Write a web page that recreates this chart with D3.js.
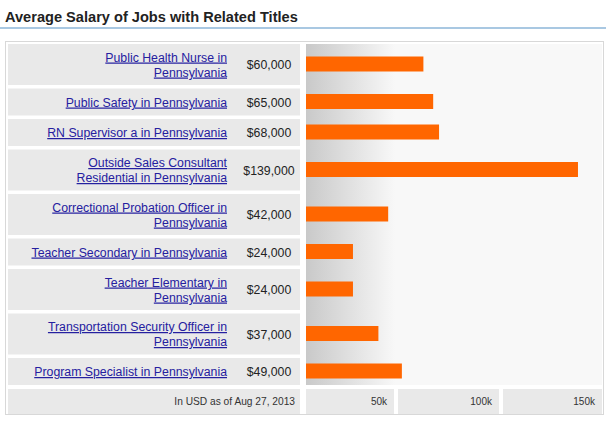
<!DOCTYPE html>
<html>
<head>
<meta charset="utf-8">
<script src="https://cdn.jsdelivr.net/npm/d3@7"></script>
<style>
  body { margin: 0; background: #fff; }
  text { font-family: Arial, "Liberation Sans", sans-serif; }
</style>
</head>
<body>
<div id="chart"></div>
<script>
// job titles (line breaks as shown in the table), salaries, axis ticks
const titles = [
  'Public Health Nurse in\nPennsylvania',
  'Public Safety in Pennsylvania',
  'RN Supervisor a in Pennsylvania',
  'Outside Sales Consultant\nResidential in Pennsylvania',
  'Correctional Probation Officer in\nPennsylvania',
  'Teacher Secondary in Pennsylvania',
  'Teacher Elementary in\nPennsylvania',
  'Transportation Security Officer in\nPennsylvania',
  'Program Specialist in Pennsylvania'
];
const salaries = [60000, 65000, 68000, 139000, 42000, 24000, 24000, 37000, 49000];
const ticks = [50000, 100000, 150000];
const tickLabels = ['50k', '100k', '150k'];
const footnote = 'In USD as of Aug 27, 2013';
const title = 'Average Salary of Jobs with Related Titles';

const width = 610, height = 422;
const svg = d3.select('#chart').append('svg')
  .attr('width', width).attr('height', height);

// title + blue rule
svg.append('text').attr('x', 5).attr('y', 22)
  .style('font-size', '14.6px').style('font-weight', 'bold').attr('fill', '#222')
  .text(title);
svg.append('rect').attr('x', 0).attr('y', 27).attr('width', 606).attr('height', 2)
  .attr('fill', '#a9c8e2');

// outer box
svg.append('rect').attr('x', 5.5).attr('y', 41.5).attr('width', 598).attr('height', 373)
  .attr('fill', '#fff').attr('stroke', '#d8d8d8');

const x = d3.scaleLinear().domain([0, 150000]).range([306, 599.5]);

// row layout: two-line rows are taller
const top0 = 44, gap = 3.5;
const rows = [];
let yy = top0;
titles.forEach((t, i) => {
  const lines = t.split('\n');
  const h = lines.length > 1 ? 41 : 27;
  rows.push({ lines, value: salaries[i], y: yy, h });
  yy += h + gap;
});
const dataBottom = yy - gap;

// chart area background gradient
const defs = svg.append('defs');
const grad = defs.append('linearGradient').attr('id', 'bg')
  .attr('gradientUnits', 'userSpaceOnUse')
  .attr('x1', 306).attr('x2', 395).attr('y1', 0).attr('y2', 0);
grad.append('stop').attr('offset', '0%').attr('stop-color', '#c9c9c9');
grad.append('stop').attr('offset', '100%').attr('stop-color', '#f8f8f8');
svg.append('rect').attr('x', 306).attr('y', top0).attr('width', 296)
  .attr('height', dataBottom - top0).attr('fill', 'url(#bg)');

const row = svg.selectAll('.row').data(rows).enter().append('g').attr('class', 'row');

row.append('rect').attr('x', 8).attr('y', d => d.y).attr('width', 292)
  .attr('height', d => d.h).attr('fill', '#e9e9e9');

row.each(function(d) {
  const g = d3.select(this);
  const cy = d.y + d.h / 2;
  const n = d.lines.length;
  d.lines.forEach((line, j) => {
    g.append('text')
      .attr('x', 227)
      .attr('y', cy + 4.5 + (j - (n - 1) / 2) * 15)
      .attr('text-anchor', 'end')
      .style('font-size', '12.3px')
      .style('text-decoration', 'underline')
      .attr('fill', '#2520a0')
      .text(line);
  });
  g.append('text')
    .attr('x', 269).attr('y', cy + 4.5)
    .attr('text-anchor', 'middle')
    .style('font-size', '12.3px').attr('fill', '#222')
    .text('$' + d3.format(',')(d.value));
});

// bars
row.append('rect')
  .attr('x', x(0))
  .attr('y', d => d.y + d.h / 2 - 8)
  .attr('width', d => x(d.value) - x(0))
  .attr('height', 15)
  .attr('fill', '#ff6600');

// bottom axis row
const axisY = dataBottom + 4, axisH = 25;
svg.append('rect').attr('x', 8).attr('y', axisY).attr('width', 292).attr('height', axisH)
  .attr('fill', '#e9e9e9');
svg.append('text').attr('x', 295).attr('y', axisY + 16).attr('text-anchor', 'end')
  .style('font-size', '10.2px').attr('fill', '#333').text(footnote);

const cellEnds = [394, 499, 602];
ticks.forEach((t, i) => {
  const start = i === 0 ? 306 : cellEnds[i - 1] + 4;
  svg.append('rect').attr('x', start).attr('y', axisY)
    .attr('width', cellEnds[i] - start).attr('height', axisH).attr('fill', '#e9e9e9');
  svg.append('text').attr('x', cellEnds[i] - 7).attr('y', axisY + 16)
    .attr('text-anchor', 'end').style('font-size', '10px').attr('fill', '#333')
    .text(tickLabels[i]);
});
</script>
</body>
</html>
